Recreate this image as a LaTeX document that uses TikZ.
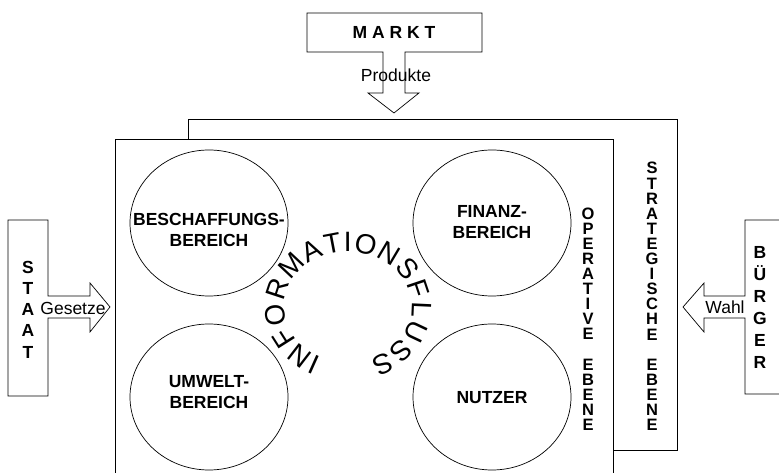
\documentclass[tikz,border=0pt]{standalone}
\usepackage{fontspec}
\setmainfont{Liberation Sans}
\usetikzlibrary{decorations.text,shapes.geometric}
\begin{document}
\begin{tikzpicture}[x=1pt,y=1pt,
  outline/.style={draw=black,line width=0.7pt},
  bold/.style={font=\bfseries\fontsize{17.5}{21}\selectfont,align=center,inner sep=0pt},
  plain/.style={font=\fontsize{17.5}{21}\selectfont,inner sep=0pt},
  vert/.style={font=\bfseries\fontsize{16.5}{15.1}\selectfont,align=center,inner sep=0pt},
  vertbig/.style={font=\bfseries\fontsize{17.5}{21.3}\selectfont,align=center,inner sep=0pt},
  area/.style={outline,ellipse,minimum width=158pt,minimum height=146pt,inner sep=0pt}]
\useasboundingbox (0,0) rectangle (779,473);
% strategic (back) box and operative (front) box
\draw[outline] (188,23) rectangle (677,354);
\draw[outline,fill=white] (115,-20) rectangle (613,334);
% four areas
\node[area] (besch) at (209,250) {};
\node[area] (finanz) at (492,250) {};
\node[area] (umwelt) at (209,76) {};
\node[area] (nutzer) at (492,76) {};
\node[bold] (beschT) at (209,243) {BESCHAFFUNGS-\\BEREICH};
\node[bold] (finanzT) at (492,251) {FINANZ-\\BEREICH};
\node[bold] (umweltT) at (209,81) {UMWELT-\\BEREICH};
\node[bold] (nutzerT) at (492,75) {NUTZER};
% information flow along arc
\coordinate (flowc) at (348,166);
{\fontsize{28}{28}\selectfont
\path[decorate,decoration={text along path,
   text={|\fontsize{28}{28}\selectfont|INFORMATIONSFLUSS},
   text align={fit to path}}]
  (flowc) ++(246:64 and 55) arc[start angle=246,end angle=-70,x radius=64,y radius=55];
}
% vertical labels
\node[vert] (oper) at (588,154) {O\\P\\E\\R\\A\\T\\I\\V\\E\\[15.1pt]E\\B\\E\\N\\E};
\node[vert] (strat) at (652,176.5) {S\\T\\R\\A\\T\\E\\G\\I\\S\\C\\H\\E\\[15.1pt]E\\B\\E\\N\\E};
% MARKT with arrow
\draw[outline] (383,421) -- (307,421) -- (307,460) -- (482,460) -- (482,421)
  -- (405,421) -- (405,380) -- (419,380) -- (394,360) -- (368,380) -- (383,380) -- cycle;
\node[bold] (markt) at (394,441) {M A R K T};
\node[plain] (produkte) at (396,398) {Produkte};
% STAAT with arrow
\draw[outline] (48,177) -- (48,253) -- (8,253) -- (8,77) -- (48,77) -- (48,155)
  -- (90,155) -- (90,141) -- (110,166) -- (90,190) -- (90,177) -- cycle;
\node[vertbig] (staat) at (28,163.5) {S\\T\\A\\A\\T};
\node[plain] (gesetze) at (73,165) {Gesetze};
% BUERGER with arrow
\draw[outline] (745,177) -- (745,253) -- (800,253) -- (800,79) -- (745,79) -- (745,155)
  -- (704,155) -- (704,141) -- (683,166) -- (704,190) -- (704,177) -- cycle;
\node[font=\bfseries\fontsize{17.5}{22}\selectfont,align=center,inner sep=0pt] (buerger) at (760,165.5) {B\\Ü\\R\\G\\E\\R};
\node[plain] (wahl) at (725,166) {Wahl};
\end{tikzpicture}
\end{document}
